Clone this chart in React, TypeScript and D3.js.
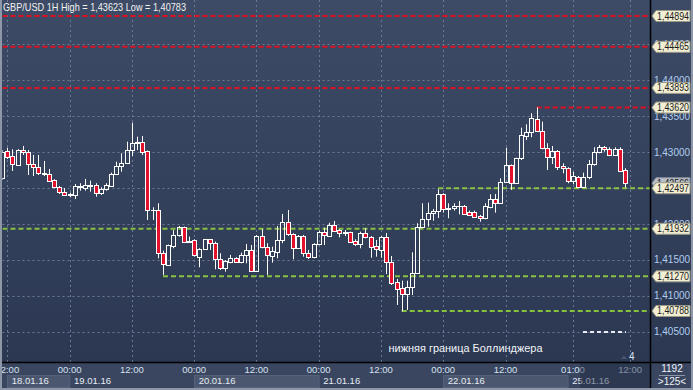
import React from "react";
import * as d3 from "d3";

const W = 693;
const H = 390;
const PL = 2.5;
const PR = 650;
const PB = 362;

const opens = [1.4264,1.43015,1.42946,1.42821,1.43029,1.42997,1.4283,1.42793,1.42691,1.42695,1.42612,1.4251,1.42441,1.4241,1.42407,1.4251,1.42505,1.42528,1.42538,1.42427,1.42482,1.42532,1.42691,1.42807,1.42844,1.43029,1.43123,1.43136,1.43015,1.42194,1.42194,1.41592,1.41429,1.41697,1.41839,1.41953,1.41767,1.41777,1.41544,1.41647,1.41786,1.41731,1.41508,1.41383,1.41475,1.41522,1.41475,1.41568,1.41638,1.41349,1.41832,1.41683,1.41558,1.41614,1.41777,1.42023,1.41856,1.41661,1.41832,1.41592,1.41536,1.41717,1.41892,1.41837,1.41985,1.41916,1.41881,1.41884,1.41763,1.41717,1.4187,1.41823,1.41693,1.41638,1.41814,1.41475,1.41192,1.41104,1.41021,1.41127,1.41322,1.41962,1.42065,1.42148,1.42176,1.42413,1.42215,1.42218,1.42246,1.4225,1.42162,1.42162,1.42111,1.42079,1.4224,1.42347,1.42296,1.42588,1.42821,1.42566,1.42914,1.43228,1.43276,1.43457,1.43298,1.43053,1.42936,1.43015,1.42807,1.42775,1.42602,1.42658,1.42519,1.42649,1.4283,1.42997,1.43067,1.43039,1.4296,1.43039,1.42751];
const highs = [1.43029,1.43061,1.43039,1.4304,1.43085,1.43029,1.4296,1.4296,1.42876,1.42765,1.42622,1.42528,1.425,1.42435,1.42556,1.42566,1.42626,1.42602,1.42566,1.4251,1.42566,1.42713,1.42866,1.42983,1.43145,1.43409,1.43214,1.43224,1.43022,1.42232,1.42287,1.41628,1.41712,1.41916,1.41971,1.41962,1.41823,1.41786,1.41661,1.4179,1.4179,1.41753,1.41592,1.41498,1.41568,1.41536,1.416,1.41721,1.41707,1.41846,1.41926,1.41731,1.41683,1.41971,1.42139,1.42194,1.4187,1.41846,1.41846,1.41638,1.41731,1.41906,1.41948,1.42017,1.42041,1.41926,1.41916,1.41892,1.41786,1.41892,1.4194,1.41832,1.41777,1.41832,1.41874,1.41554,1.41234,1.4121,1.4121,1.41605,1.42009,1.42287,1.42296,1.42208,1.42482,1.42427,1.42287,1.42287,1.4232,1.42264,1.42185,1.42185,1.42125,1.42287,1.42413,1.42417,1.42635,1.43061,1.42828,1.42922,1.4334,1.43387,1.4354,1.43623,1.43423,1.43123,1.43085,1.43029,1.42844,1.42789,1.42727,1.42667,1.42713,1.4289,1.43067,1.43099,1.43085,1.43067,1.43067,1.43067,1.42775];
const lows = [1.42612,1.42904,1.42737,1.42811,1.4296,1.42681,1.42667,1.42681,1.42667,1.42588,1.42496,1.42417,1.42393,1.42371,1.42347,1.42463,1.42463,1.42449,1.42379,1.42403,1.42463,1.42528,1.42681,1.42727,1.42834,1.42946,1.43029,1.4296,1.42055,1.42055,1.41522,1.4129,1.41419,1.41661,1.41823,1.41739,1.41739,1.41547,1.41397,1.41638,1.41638,1.41369,1.41359,1.41336,1.41452,1.41461,1.41452,1.41452,1.41336,1.41336,1.41661,1.4129,1.41461,1.41522,1.41731,1.41832,1.41508,1.41651,1.41544,1.41512,1.41522,1.41707,1.41707,1.41828,1.41892,1.41814,1.41832,1.41739,1.41693,1.41661,1.418,1.4153,1.41544,1.4153,1.41303,1.4115,1.40872,1.40783,1.40802,1.41011,1.41313,1.41953,1.41962,1.42045,1.42083,1.42157,1.42079,1.42185,1.42134,1.42125,1.42111,1.42083,1.42031,1.42065,1.42218,1.42157,1.42287,1.42574,1.42473,1.42556,1.4289,1.43168,1.43206,1.43284,1.43039,1.42751,1.42834,1.42751,1.42705,1.42566,1.42552,1.42514,1.4251,1.42622,1.42811,1.42983,1.43006,1.42946,1.42946,1.42727,1.42505];
const closes = [1.43002,1.42936,1.4283,1.43029,1.42997,1.4283,1.42793,1.42705,1.42713,1.42602,1.4251,1.42441,1.42407,1.42406,1.42528,1.42528,1.42538,1.42535,1.42427,1.42487,1.42542,1.42695,1.42807,1.42848,1.43029,1.43131,1.43141,1.43006,1.42194,1.42187,1.41592,1.41439,1.41707,1.41846,1.41962,1.41753,1.41753,1.41561,1.41651,1.41786,1.41731,1.41508,1.41383,1.41484,1.41522,1.41475,1.41568,1.41638,1.41349,1.41832,1.41683,1.41561,1.41624,1.41777,1.42023,1.41856,1.41661,1.41832,1.41592,1.41536,1.41717,1.41892,1.41846,1.41985,1.41906,1.4187,1.41878,1.41753,1.41717,1.4187,1.41823,1.41683,1.41647,1.41814,1.41475,1.41182,1.41095,1.41021,1.41127,1.41322,1.41962,1.42065,1.42148,1.42176,1.42413,1.42204,1.42211,1.4225,1.42243,1.42134,1.42129,1.42093,1.42079,1.4225,1.42347,1.42296,1.42588,1.42821,1.42566,1.42914,1.43238,1.43276,1.43471,1.43298,1.43053,1.42936,1.43015,1.42797,1.42775,1.42602,1.42667,1.42519,1.42649,1.4283,1.42997,1.43067,1.43039,1.4296,1.43039,1.42741,1.42566];

const priceTicks = [1.405, 1.41, 1.415, 1.42, 1.425, 1.43, 1.435, 1.44, 1.445];
const redLevels = [1.44894, 1.44465, 1.43893, 1.4362];
const redLevelStartIdx = [-1, -1, -1, 103];
const greenLevels = [1.42497, 1.41932, 1.4127, 1.40788];
const greenLevelStartIdx = [84, -1, 31, 77];

const timeTickIdx = [1, 13, 25, 37, 49, 61, 73, 85, 97, 110, 121];
const timeTickLabels = ["12:00", "00:00", "12:00", "00:00", "12:00", "00:00", "12:00", "00:00", "12:00", "01:00", "12:00"];
const dateLabels = ["18.01.16", "19.01.16", "20.01.16", "21.01.16", "22.01.16", "25.01.16"];
const dateStartIdx = [1, 13, 37, 61, 85, 109];

const titleText = "GBP/USD 1H High = 1,43623 Low = 1,40783";
const bandText = "нижняя граница Боллинджера";

const FONT = "'Liberation Sans', Arial, sans-serif";
const fmt = (v: number) => d3.format(".5f")(v).replace(".", ",");

export default function App() {
  const xs = d3.scaleLinear().domain([0, 120]).range([2.1, 624.9]);
  const ys = d3.scaleLinear().domain([1.40078, 1.45117]).range([PB, 0]);
  const crisp = (v: number) => Math.round(v) + 0.5;

  const levelLabel = (p: number, fill: string, stroke: string, key: string) => {
    const y = ys(p);
    const x0 = 652;
    const d = `M${x0},${y} L${x0 + 4},${y - 5.5} L690,${y - 5.5} L690,${y + 5.5} L${x0 + 4},${y + 5.5} Z`;
    return (
      <g key={key}>
        <path d={d} fill={fill} stroke={stroke} strokeWidth={1} />
        <text x={657} y={y + 3.5} fontSize={10} fill="#1c1c1c" fontFamily={FONT} textLength={32} lengthAdjust="spacingAndGlyphs">{fmt(p)}</text>
      </g>
    );
  };

  return (
    <svg width={W} height={H} style={{ position: "absolute", left: 0, top: 0, display: "block" }}>
      <defs>
        <linearGradient id="bg" x1="0" y1="0" x2="0" y2="1">
          <stop offset="0%" stopColor="#3d4b66" />
          <stop offset="100%" stopColor="#2c3852" />
        </linearGradient>
        <clipPath id="plotClip">
          <rect x={PL} y={0} width={PR - PL} height={PB} />
        </clipPath>
      </defs>
      <rect x={0} y={0} width={W} height={PB} fill="url(#bg)" />
      <rect x={0} y={PB} width={W} height={H - PB} fill="#3a4660" />

      {/* grid */}
      <g stroke="#6a7a96" strokeWidth={1} strokeDasharray="2,3">
        {priceTicks.map((p) => (
          <line key={"h" + p} x1={PL} x2={PR} y1={crisp(ys(p))} y2={crisp(ys(p))} />
        ))}
        {timeTickIdx.map((i) => (
          <line key={"v" + i} x1={crisp(xs(i))} x2={crisp(xs(i))} y1={0} y2={PB} />
        ))}
      </g>

      {/* level lines */}
      <g clipPath="url(#plotClip)">
        {redLevels.map((p, k) => (
          <line key={"r" + k} x1={redLevelStartIdx[k] < 0 ? PL : xs(redLevelStartIdx[k])} x2={PR} y1={ys(p)} y2={ys(p)} stroke="#e0101e" strokeWidth={2} strokeDasharray="5,3" />
        ))}
        {greenLevels.map((p, k) => (
          <line key={"g" + k} x1={greenLevelStartIdx[k] < 0 ? PL : xs(greenLevelStartIdx[k])} x2={PR} y1={ys(p)} y2={ys(p)} stroke="#86c23f" strokeWidth={2} strokeDasharray="5,3" />
        ))}
        <line x1={583} x2={626} y1={332} y2={332} stroke="#e8ecf2" strokeWidth={2} strokeDasharray="4,3" />
      </g>

      {/* candles */}
      <g clipPath="url(#plotClip)">
        {opens.map((o, i) => {
          const c = closes[i];
          const cx = Math.round(xs(i));
          const wx = cx + 0.5;
          const yH = ys(highs[i]);
          const yL = ys(lows[i]);
          const yO = ys(o);
          const yC = ys(c);
          const top = Math.round(Math.min(yO, yC)) + 0.5;
          const bot = Math.round(Math.max(yO, yC)) + 0.5;
          const up = c >= o;
          if (bot - top < 1) {
            return (
              <g key={i}>
                <line x1={wx} x2={wx} y1={yH} y2={yL} stroke="#ffffff" strokeWidth={1} />
                <line x1={cx - 2} x2={cx + 3} y1={top} y2={top} stroke="#ffffff" strokeWidth={1} />
              </g>
            );
          }
          return (
            <g key={i}>
              <line x1={wx} x2={wx} y1={yH} y2={top} stroke="#ffffff" strokeWidth={1} />
              <line x1={wx} x2={wx} y1={bot} y2={yL} stroke="#ffffff" strokeWidth={1} />
              <rect x={cx - 1.5} y={top} width={4} height={bot - top} fill={up ? "none" : "#e3112b"} stroke="#ffffff" strokeWidth={1} />
            </g>
          );
        })}
      </g>

      {/* title */}
      <text x={3} y={11.3} fontSize={10.5} fill="#f2f2f2" fontFamily={FONT} textLength={183} lengthAdjust="spacingAndGlyphs">{titleText}</text>
      <text x={388.5} y={352.3} fontSize={11.5} fill="#f2f4f8" fontFamily={FONT} textLength={154} lengthAdjust="spacingAndGlyphs">{bandText}</text>
      <path d="M621,359 L624,355.5 L627,359 Z" fill="#4a5570" />
      <text x={629} y={359.5} fontSize={10} fill="#d8e4f4" fontFamily={FONT}>4</text>

      {/* right axis */}
      {priceTicks.map((p) => (
        <text key={"t" + p} x={654} y={ys(p) + 3.6} fontSize={10} fill="#b1cdef" fontFamily={FONT} textLength={36} lengthAdjust="spacingAndGlyphs">{fmt(p)}</text>
      ))}
      {levelLabel(closes[closes.length - 1], "#b8bdc6", "#8a909a", "cur")}
      {redLevels.map((p, k) => levelLabel(p, "#f1eed3", "#9a9886", "rl" + k))}
      {greenLevels.map((p, k) => levelLabel(p, "#f1eed3", "#9a9886", "gl" + k))}

      {/* bottom axis */}
      {dateStartIdx.map((s, k) =>
        k % 2 === 0 && k < dateStartIdx.length - 1 ? (
          <rect key={"db" + k} x={crisp(xs(s))} y={375.5} width={xs(dateStartIdx[k + 1]) - xs(s)} height={12} fill="#4b576e" stroke="#55627a" strokeWidth={1} />
        ) : null
      )}
      {timeTickIdx.map((i, k) => (
        <text key={"tl" + k} x={xs(i)} y={373.3} fontSize={9.5} fill="#d6e1f0" fontFamily={FONT} textAnchor="middle">{timeTickLabels[k]}</text>
      ))}
      {dateLabels.map((d, k) => (
        <text key={"dl" + k} x={xs(dateStartIdx[k]) + 4.5} y={384.3} fontSize={9.5} fill="#e6ecf4" fontFamily={FONT}>{d}</text>
      ))}
      <rect x={580} y={PB} width={PR - 580} height={H - PB} fill="#1f2940" opacity={0.45} />

      {/* frame */}
      <line x1={0} x2={W} y1={PB + 0.5} y2={PB + 0.5} stroke="#000000" strokeWidth={1.5} />
      <line x1={PR + 0.5} x2={PR + 0.5} y1={0} y2={H} stroke="#000000" strokeWidth={1.5} />
      <rect x={0} y={0} width={2} height={H} fill="#8d97a8" />
      <rect x={0} y={H - 2} width={W} height={2} fill="#8d97a8" />
      <rect x={W - 2} y={0} width={2} height={H} fill="#8d97a8" />

      {/* bottom-right cell */}
      <text x={672} y={372} fontSize={10} fill="#eef2f8" fontFamily={FONT} textAnchor="middle">1192</text>
      <line x1={659} x2={685} y1={375.5} y2={375.5} stroke="#8b95a8" strokeWidth={1} />
      <text x={672} y={384.5} fontSize={10} fill="#eef2f8" fontFamily={FONT} textAnchor="middle">{">125<"}</text>
    </svg>
  );
}
